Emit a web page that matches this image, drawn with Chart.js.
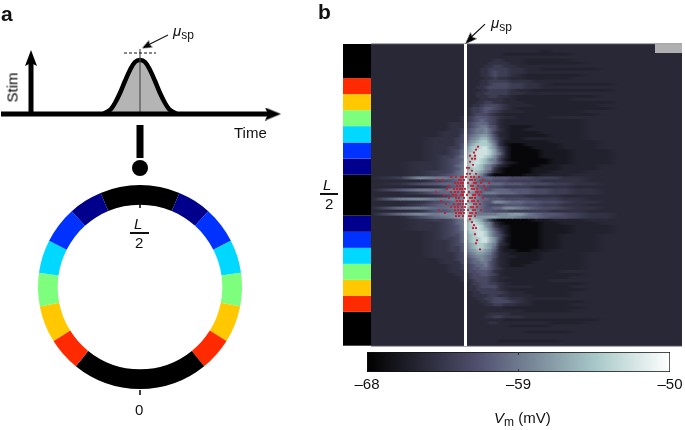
<!DOCTYPE html>
<html>
<head>
<meta charset="utf-8">
<script src="https://cdn.jsdelivr.net/npm/chart.js@4"></script>
<style>
html, body { margin: 0; padding: 0; background: #fff; overflow: hidden; }
#page { position: relative; width: 685px; height: 430px; font-family: "Liberation Sans", Arial, sans-serif; color: #111; }
canvas { position: absolute; display: block; }
.t { position: absolute; white-space: nowrap; line-height: 1; }
.t i { font-style: italic; }
.t sub { font-size: 0.8em; line-height: 0; vertical-align: -0.25em; }
.bar { position: absolute; background: #111; height: 1.5px; }
#heat { filter: blur(0.4px); }
</style>
</head>
<body>
<div id="page">
  <canvas id="ring" width="204" height="204" style="left:38px;top:185px"></canvas>
  <canvas id="schema" width="300" height="430" style="left:0;top:0"></canvas>
  <canvas id="strip" width="28" height="302" style="left:343px;top:44px"></canvas>
  <canvas id="heat" width="311" height="302" style="left:371px;top:44px"></canvas>
  <canvas id="marks" width="311" height="348" style="left:371px;top:0"></canvas>
  <canvas id="cbar" width="345" height="60" style="left:340px;top:345px"></canvas>

  <div class="t" style="left:1px;top:3px;font-size:21px;font-weight:bold">a</div>
  <div class="t" style="left:318px;top:1px;font-size:21px;font-weight:bold">b</div>
  <div class="t" style="left:173px;top:23px;font-size:15px"><i>μ</i><sub>sp</sub></div>
  <div class="t" style="left:491px;top:15px;font-size:15px"><i>μ</i><sub>sp</sub></div>
  <div class="t" style="left:-6px;top:80px;font-size:15px;width:36px;text-align:center;color:#000;transform:rotate(-90deg)">Stim</div>
  <div class="t" style="left:234px;top:125px;font-size:15px">Time</div>

  <div class="t" style="left:134px;top:216px;font-size:15px"><i>L</i></div>
  <div class="bar" style="left:130px;top:232px;width:19px"></div>
  <div class="t" style="left:135px;top:235px;font-size:15px">2</div>
  <div class="t" style="left:135px;top:402px;font-size:15px">0</div>

  <div class="t" style="left:323px;top:177px;font-size:15px"><i>L</i></div>
  <div class="bar" style="left:320px;top:193px;width:18px"></div>
  <div class="t" style="left:325px;top:196px;font-size:15px">2</div>

  <div class="t" style="left:494px;top:410px;font-size:15px"><i>V</i><sub>m</sub> (mV)</div>
</div>

<script>
// panel a, the stimulus sketch (time, height above the baseline)
const gaussTime = [103, 107, 111, 115, 120, 125, 130, 135, 140, 145, 150, 155, 160, 165, 169, 173, 177];
const gaussHeight = [0, 2, 5, 11, 21, 33, 44, 52, 54, 52, 44, 33, 21, 11, 5, 2, 0];
const stimTime = 31;
const stimHeight = 56;
const muTime = 140;

// ring and strip, colour zones of the track position L
const zoneColors = ['#000000', '#00008c', '#0032ff', '#00d8ff', '#7dff7d', '#ffc800', '#ff2a00',
                    '#000000', '#ff2a00', '#ffc800', '#7dff7d', '#00d8ff', '#0032ff', '#00008c'];
const ringSpans = [45.4, 19.3, 21, 19, 19, 21, 19, 78, 19, 21, 19, 19, 21, 19.3];
const stripColors = ['#000000', '#ff2a00', '#ffc800', '#7dff7d', '#00d8ff', '#0032ff', '#00008c', '#000000',
                     '#00008c', '#0032ff', '#00d8ff', '#7dff7d', '#ffc800', '#ff2a00', '#000000'];
const stripSpans = [11.3, 5.3, 5.3, 5.3, 5.4, 5.3, 5.4, 13.6, 5.3, 5.3, 5.3, 5.3, 5.3, 5.3, 11.2];

// panel b, Vm per row. one hex digit per time bin, looked up in levelVm
const levelVm = [-67.4, -66, -65.2, -64.7, -64, -63, -62, -61, -60, -59, -58, -57, -55.5, -54, -52.5, -50];
const timeBins = [0, 29, 49, 64, 74, 81, 87, 92, 96, 99, 103, 107, 111, 115, 119, 124, 129, 135, 141, 149, 157, 165, 174, 184, 194, 207, 221, 235, 249, 269, 289, 311];
const heatRows = [
  '3333333333333333333333333333333', '3333333333333333333333333333333',
  '3333333333333333333333233333333', '3333333333333333322222222333333',
  '3333333333333333333333333333333', '3333333333333334433322222333333',
  '3333333333333344443322222233333', '3333333333333445544333333333333',
  '3333333333334455554433222223333', '3333333333334456554433333333333',
  '3333333333334456554322222233333', '3333333333333445443322222333333',
  '3333333333334455554443333333333', '3333333333334456665544322222333',
  '3333333333344566665544333333333', '3333333333334455554332222222333',
  '3333333333344555554433333333333', '3333333333344455443222222223333',
  '3333333333334444433222222333333', '3333333333344554433322222222333',
  '3333333333445666543332222223333', '3333333334556776543222222222333',
  '3333333334556765433322222233333', '3333333334566654322222222223333',
  '3333333445677765433222233333333', '3333333445678765322222222233333',
  '3333344456788865322222222233333', '3333344456789976321112222233333',
  '3333344567899a86421122222233333', '3333444567899a85321111222233333',
  '33334446789abb96321111122233333', '3334445679abcca7421122222233333',
  '333444568abcddb8411111122223333', '333444579bcdddc9410011112223333',
  '33344557acddeeca620001112223333', '33344568bcdeeedb720000111222333',
  '33344568bdeeeedb820000111222333', '33345579bddeedca620000111222333',
  '33345678cddedca9510000011222333', '33445679cdeedcb9621000011222333',
  '33445689cdedca96310000112223333', '33445679bcddca94100001112223333',
  '33455689cddcb973100001122233333', '33456789cdcb9620000011222333333',
  '35a99899cca98887776665554433333', '33356789dca87776665555444433333',
  '34678889cba99988877766655443333', '33345789bca87766655554444333333',
  '37998a9adcb98778887776655443333', '33578899cba88999888776655443333',
  '33345789dcb97666555544443333333', '39a99a9adca98877766665554433333',
  '33467899cba9877aa98877665443333', '33578889dcb98766677766554433333',
  '38988999cba987788aa987665443333', '33477899dcb98776665555544433333',
  '38a9aaaadca99999aabb98776544333', '33689abbddcbbbbbaaa988766544333',
  '33455689bcdcb851000001122233333', '33445689cdedca94100000112223333',
  '33445679cddedb95210000111222333', '33445679cdeedca7410000111222333',
  '33345678bddeedb8510000111222333', '33345668bcdeedb8620000112223333',
  '33345568bcddeeca610000112223333', '33344568acddeeca510000112223333',
  '33344567abcddcb9420000112223333', '333445579bcddcb831000011222333',
  '333445579abccba731100112222333', '3334445689abba96321111222233333',
  '33344456789aa986322111222233333', '333344566789a985321111222233333',
  '3333444667889975321112222233333', '3333344556788975321122222233333',
  '3333344556778875422222222233333', '3333344456677764322222223333333',
  '3333334445667765322222222233333', '3333333445666654332222222333333',
  '3333333444566654322222233333333', '3333333334556655432222222233333',
  '3333333334456666433332222333333', '3333333334455555432222222233333',
  '3333333333445555543322222333333', '3333333333444455443332222333333',
  '3333333333344556654433333333333', '3333333333334456665432222233333',
  '3333333333333445544332222333333', '3333333333333333322222222233333',
  '3333333333333333333322222333333', '3333333333333344443333333333333',
  '3333333333333445544433333333333', '3333333333333333322222222223333',
  '3333333333333344333333322233333', '3333333333333333332222233333333',
  '3333333333333333333333333333333', '3333333333333333333322222333333',
  '3333333333333333333333333333333', '3333333333333333333333333333333',
  '3333333333333333222222223333333', '3333333333333333333333333333333'
];

// spike raster, one list of spike times per row
const spikeRowIds = [34, 35, 36, 37, 38, 39, 40, 41, 42, 43, 44, 45, 46, 47, 48, 49, 50, 51, 52, 53, 54, 55, 56, 57, 58, 59, 60, 61, 63, 65, 66, 68];
const spikeTimes = [[107], [105], [103], [99, 104], [101, 104], [99], [102], [96, 98], [101], [96, 99, 105],
  [80, 85, 90, 92, 95, 100, 103, 108], [66, 72, 88, 90, 93, 99, 101, 104, 112], [84, 87, 90, 92, 97, 103, 105, 110, 118],
  [78, 86, 89, 92, 100, 102, 107, 113], [76, 83, 86, 89, 91, 94, 101, 103, 106, 115], [65, 80, 84, 87, 91, 93, 98, 105, 107, 110],
  [73, 82, 85, 90, 92, 96, 102, 104, 108], [78, 85, 88, 93, 99, 101, 104, 112], [70, 86, 89, 92, 97, 101, 103, 107],
  [75, 83, 87, 89, 92, 95, 103, 105, 109], [80, 84, 87, 91, 94, 100, 102, 106], [68, 84, 87, 90, 93, 97, 102, 104, 110],
  [74, 85, 88, 90, 93, 99, 101, 105], [85, 88, 92, 98, 100, 104], [99], [101], [103], [102, 105], [104], [106], [105], [109]];

const vmTicks = [-68, -59, -50];
const vmTickLabels = ['–68', '–59', '–50'];
const vmStops = [-68, -61.25, -54.5, -50];
const vmStopColors = [[0, 0, 0], [82, 82, 113], [166, 199, 199], [255, 255, 255]];

Chart.defaults.animation = false;
Chart.defaults.responsive = false;
Chart.defaults.layout.autoPadding = false;
Chart.defaults.plugins.legend.display = false;
Chart.defaults.plugins.tooltip.enabled = false;
Chart.defaults.font.family = '"Liberation Sans", Arial, sans-serif';

function vmColor(vm) {
  let i = 0;
  while (i < vmStops.length - 2 && vm > vmStops[i + 1]) i++;
  const f = (vm - vmStops[i]) / (vmStops[i + 1] - vmStops[i]);
  const c = vmStopColors[i].map((v, k) => Math.round(v + (vmStopColors[i + 1][k] - v) * f));
  return 'rgb(' + c.join(',') + ')';
}

function cellVm(row, col) {
  const r = heatRows[row].padEnd(timeBins.length - 1, '3');
  return levelVm[parseInt(r[Math.min(col, timeBins.length - 2)], 16)];
}

// notched arrow head pointing up, used as a point style
function arrowHead(len, wid) {
  const c = document.createElement('canvas');
  c.width = wid;
  c.height = len;
  const g = c.getContext('2d');
  g.beginPath();
  g.moveTo(wid / 2, 0);
  g.lineTo(wid, len);
  g.lineTo(wid / 2, len * 0.82);
  g.lineTo(0, len);
  g.closePath();
  g.fill();
  return c;
}

function stroke(points, width, color, extra) {
  return Object.assign({ data: points, showLine: true, borderColor: color, borderWidth: width, pointRadius: 0, borderCapStyle: 'butt' }, extra);
}

function head(x, y, len, wid, angle) {
  return { data: [{ x: x, y: y }], showLine: false, pointStyle: arrowHead(len, wid), pointRadius: 5, pointRotation: angle };
}

function hiddenXY(xmin, xmax, ymin, ymax, reverse) {
  return {
    x: { type: 'linear', min: xmin, max: xmax, display: false },
    y: { type: 'linear', min: ymin, max: ymax, display: false, reverse: !!reverse }
  };
}

const gaussPoints = gaussTime.map((t, i) => ({ x: t, y: gaussHeight[i] }));

new Chart(document.getElementById('schema'), {
  type: 'scatter',
  data: {
    datasets: [
      head(273, 0, 16, 13, 90),
      stroke([{ x: 1, y: 0 }, { x: 268, y: 0 }], 5, '#000'),
      head(stimTime, stimHeight, 16, 12, 0),
      stroke([{ x: stimTime, y: 0 }, { x: stimTime, y: stimHeight }], 5, '#000'),
      head(146.5, 68, 10, 8, -117.5),
      stroke([{ x: 168, y: 79 }, { x: 148, y: 69 }], 1.2, '#111'),
      stroke([{ x: 124, y: 61 }, { x: 156, y: 61 }], 1, '#111', { borderDash: [3, 2] }),
      stroke([{ x: muTime, y: 0 }, { x: muTime, y: 65 }], 1.1, '#444'),
      stroke(gaussPoints, 4.5, '#000', { tension: 0.35, fill: 'origin', backgroundColor: '#b4b4b4' }),
      stroke([{ x: muTime, y: -11 }, { x: muTime, y: -44 }], 7, '#000'),
      { data: [{ x: muTime, y: -54 }], showLine: false, pointRadius: 8, backgroundColor: '#000', borderWidth: 0 },
      stroke([{ x: muTime, y: -90 }, { x: muTime, y: -94 }], 1.5, '#000'),
      stroke([{ x: muTime, y: -276 }, { x: muTime, y: -281 }], 1.5, '#000')
    ]
  },
  options: { layout: { padding: 0 }, scales: hiddenXY(0, 300, -316, 114) }
});

new Chart(document.getElementById('ring'), {
  type: 'doughnut',
  data: {
    labels: ringSpans.map((s, i) => 'zone ' + i),
    datasets: [{ data: ringSpans, backgroundColor: zoneColors, borderWidth: 0 }]
  },
  options: { rotation: -22.7, cutout: '80.7%', layout: { padding: 0 } }
});

new Chart(document.getElementById('strip'), {
  type: 'bar',
  data: {
    labels: ['L'],
    datasets: stripSpans.map((s, i) => ({ data: [s], backgroundColor: stripColors[i], borderWidth: 0, inflateAmount: 0 }))
  },
  options: {
    layout: { padding: 0 },
    datasets: { bar: { barPercentage: 1, categoryPercentage: 1 } },
    scales: {
      x: { stacked: true, display: false },
      y: { stacked: true, display: false, reverse: true, min: 0, max: 100 }
    }
  }
});

// every time bin is one stacked bar per row, shaded towards the next bin
function heatShade(col) {
  return function (c) {
    if (c.dataIndex === undefined) return '#2a2a38';
    const x = c.chart.scales.x;
    const x0 = x ? x.getPixelForValue(timeBins[col]) : NaN;
    const x1 = x ? x.getPixelForValue(timeBins[col + 1]) : NaN;
    if (!isFinite(x0) || !isFinite(x1)) return '#2a2a38';
    const g = c.chart.ctx.createLinearGradient(x0, 0, x1, 0);
    g.addColorStop(0, vmColor(cellVm(c.dataIndex, col)));
    g.addColorStop(1, vmColor(cellVm(c.dataIndex, col + 1)));
    return g;
  };
}

new Chart(document.getElementById('heat'), {
  type: 'bar',
  data: {
    labels: heatRows.map((r, i) => i),
    datasets: timeBins.slice(0, -1).map((t, col) => ({
      data: heatRows.map(() => timeBins[col + 1] - t),
      backgroundColor: heatShade(col),
      borderWidth: 0,
      inflateAmount: 0.5
    }))
  },
  options: {
    indexAxis: 'y',
    layout: { padding: 0 },
    datasets: { bar: { barPercentage: 1, categoryPercentage: 1 } },
    scales: {
      x: { type: 'linear', stacked: true, min: 0, max: 311, display: false },
      y: { type: 'category', stacked: true, display: false }
    }
  }
});

const spikePoints = [];
spikeRowIds.forEach((row, i) => spikeTimes[i].forEach(t => spikePoints.push({ x: t, y: row })));

new Chart(document.getElementById('marks'), {
  type: 'scatter',
  data: {
    datasets: [
      { data: spikePoints, showLine: false, pointRadius: 1.15, borderWidth: 0, backgroundColor: '#c81e32' },
      stroke([{ x: 94.5, y: 0 }, { x: 94.5, y: 100 }], 3, '#fff'),
      stroke([{ x: 284, y: 1.5 }, { x: 311, y: 1.5 }], 9, '#b0b0b0'),
      stroke([{ x: 0, y: 0 }, { x: 311, y: 0 }], 1, '#555560'),
      stroke([{ x: 0, y: 100 }, { x: 311, y: 100 }], 1, '#555560'),
      head(98.5, -1.4, 12, 9, -135),
      stroke([{ x: 114, y: -6.6 }, { x: 99, y: -1.9 }], 1.2, '#111')
    ]
  },
  options: { layout: { padding: 0 }, scales: hiddenXY(0, 311, -14.57, 100.66, true) }
});

const midTicks = {
  id: 'midTicks',
  afterDatasetsDraw(chart) {
    const c = chart.ctx, a = chart.chartArea, x = chart.scales.x.getPixelForValue(vmTicks[1]);
    c.save();
    c.strokeStyle = '#333';
    c.lineWidth = 1;
    c.beginPath();
    c.moveTo(x, a.top);
    c.lineTo(x, a.top + 3);
    c.moveTo(x, a.bottom - 3);
    c.lineTo(x, a.bottom);
    c.stroke();
    c.restore();
  }
};

new Chart(document.getElementById('cbar'), {
  type: 'bar',
  data: {
    labels: ['Vm'],
    datasets: [{
      data: [[vmTicks[0], vmTicks[2]]],
      borderWidth: 1,
      borderColor: '#111',
      borderSkipped: false,
      backgroundColor: function (c) {
        const area = c.chart.chartArea, x = c.chart.scales.x;
        if (!area || !x || !isFinite(x.left) || !isFinite(x.right)) return '#555';
        const g = c.chart.ctx.createLinearGradient(x.left, 0, x.right, 0);
        vmStops.forEach(v => g.addColorStop((v - vmStops[0]) / (vmStops[3] - vmStops[0]), vmColor(v)));
        return g;
      }
    }]
  },
  plugins: [midTicks],
  options: {
    indexAxis: 'y',
    layout: { padding: { left: 27, right: 15, top: 7, bottom: 15 } },
    datasets: { bar: { barPercentage: 1, categoryPercentage: 1 } },
    scales: {
      x: {
        type: 'linear',
        min: vmTicks[0],
        max: vmTicks[2],
        border: { display: false },
        grid: { display: false },
        afterBuildTicks: scale => { scale.ticks = vmTicks.map(v => ({ value: v })); },
        ticks: {
          color: '#111',
          font: { size: 15 },
          padding: -4,
          maxRotation: 0,
          autoSkip: false,
          callback: (v, i) => vmTickLabels[i]
        }
      },
      y: { type: 'category', display: false }
    }
  }
});
</script>
</body>
</html>
